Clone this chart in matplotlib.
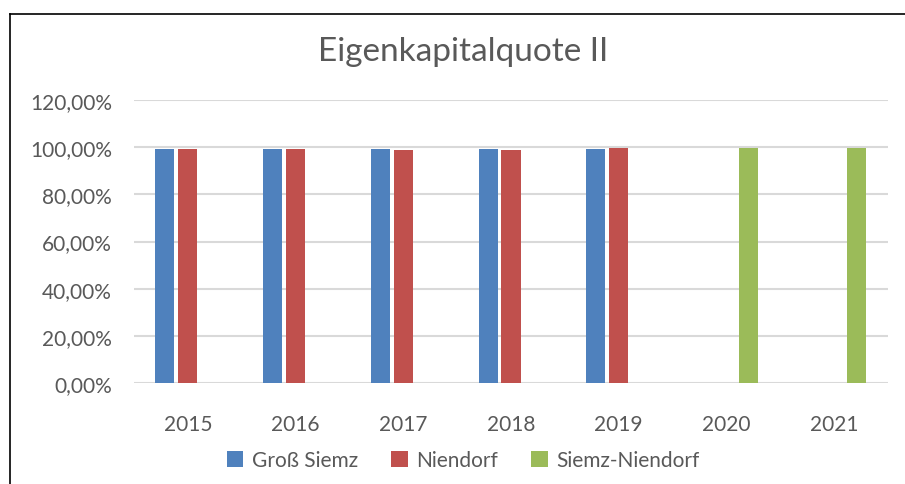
import matplotlib.pyplot as plt
import numpy as np
from matplotlib.lines import Line2D
from matplotlib.ticker import FuncFormatter

plt.rcParams['font.family'] = ['Lato', 'DejaVu Sans']

years = ['2015', '2016', '2017', '2018', '2019', '2020', '2021']
series_names = ['Groß Siemz', 'Niendorf', 'Siemz-Niendorf']
gross_siemz = [99.2, 99.2, 99.2, 99.2, 99.2, np.nan, np.nan]
niendorf = [99.3, 99.3, 98.8, 98.8, 99.8, np.nan, np.nan]
siemz_niendorf = [np.nan, np.nan, np.nan, np.nan, np.nan, 99.8, 99.8]
colors = ['#4F81BD', '#C0504D', '#9BBB59']
text_col = '#595959'

fig = plt.figure(figsize=(9.05, 4.85), dpi=100)
ax = fig.add_axes([134 / 905, 1 - 384 / 485, 754 / 905, 283 / 485])

x = np.arange(len(years))
w = 0.177
offsets = [-0.213, 0.0, 0.207]
for vals, off, c, name in zip([gross_siemz, niendorf, siemz_niendorf], offsets, colors, series_names):
    ax.bar(x + off, vals, width=w, color=c, label=name, zorder=3)

ax.set_xlim(-0.5, len(years) - 0.5)
ax.set_ylim(0, 120)
ax.set_yticks(range(0, 121, 20))
ax.yaxis.set_major_formatter(FuncFormatter(lambda v, p: ('%.2f%%' % v).replace('.', ',')))
ax.set_xticks(x)
ax.set_xticklabels(years)

ax.grid(axis='y', color='#D9D9D9', linewidth=1.5, zorder=0)
for s in ax.spines.values():
    s.set_visible(False)
ax.tick_params(axis='both', length=0, labelsize=15, colors=text_col)
ax.tick_params(axis='x', pad=22)
ax.tick_params(axis='y', pad=16)

fig.text(463 / 905, 1 - 52 / 485, 'Eigenkapitalquote II', ha='center', va='center',
         fontsize=24, color=text_col)

leg = fig.legend(loc='center', bbox_to_anchor=(463 / 905, 1 - 461 / 485), ncol=3,
                 frameon=False, fontsize=15, handlelength=0.8, handleheight=0.8,
                 handletextpad=0.4, columnspacing=1.6)
for t in leg.get_texts():
    t.set_color(text_col)

# frame of the chart area (only left and top visible)
fig.add_artist(Line2D([10 / 905, 10 / 905], [0, 1 - 15 / 485], color='black', linewidth=1.2))
fig.add_artist(Line2D([10 / 905, 1], [1 - 15 / 485, 1 - 15 / 485], color='black', linewidth=1.2))

fig.savefig('out.png', dpi=100)
